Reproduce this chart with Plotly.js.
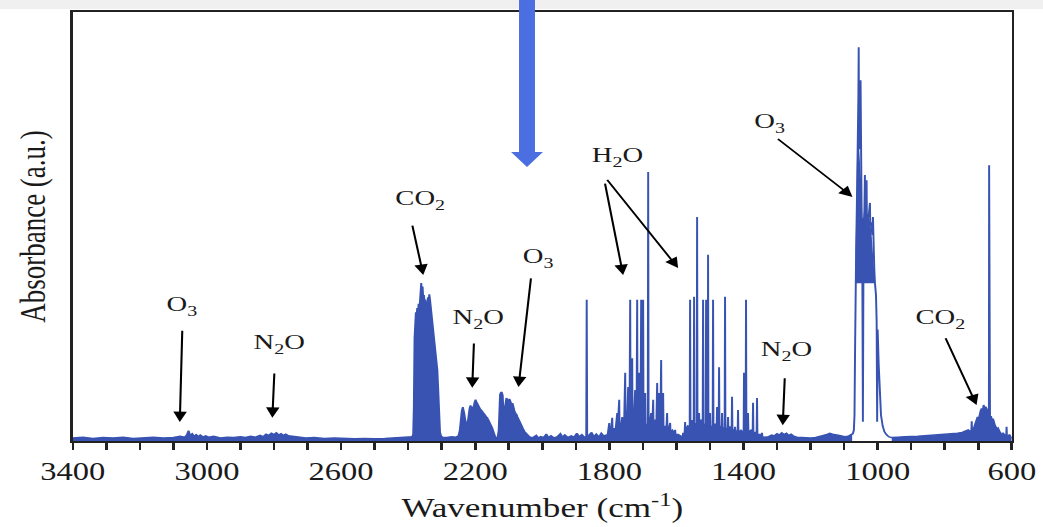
<!DOCTYPE html>
<html><head><meta charset="utf-8">
<script src="https://cdn.plot.ly/plotly-3.0.1.min.js"></script>
<style>
html,body{margin:0;padding:0;background:#fff;overflow:hidden;}
#chart{width:802px;height:527px;transform:scaleX(1.3005);transform-origin:0 0;}
</style>
</head><body><div id="chart"></div>
<script>
// ---- spectrum segments (wavenumber cm-1, absorbance a.u.) ----
const baseWn = [3400,3370,3340,3310,3280,3250,3220,3190,3160,3130,3100,3080,3066,3060,3055,3050,3044,3038,3032,3026,3020,3012,3004,2995,2980,2960,2940,2920,2900,2885,2870,2855,2842,2832,2824,2816,2808,2800,2793,2786,2779,2772,2765,2757,2748,2738,2725,2705,2680,2650,2620,2590,2560,2530,2500,2470,2440,2410,2395];
const baseAbs = [0.7,0.9,0.6,0.8,0.7,0.9,0.6,0.8,0.9,0.7,0.8,1.1,0.9,1.4,2.4,1.3,1.7,1.1,1.5,1.0,1.4,0.9,1.2,0.9,1.1,0.7,0.9,0.8,1.0,0.8,1.1,0.9,1.3,1.0,1.6,1.3,1.8,1.5,1.9,1.4,1.7,1.3,1.6,1.2,1.1,0.9,0.8,0.7,0.8,0.6,0.7,0.6,0.5,0.6,0.5,0.6,0.7,0.8,1.0];

const co2StretchWn = [2388,2385,2383,2381,2379,2377,2375,2373,2371,2369,2367,2365,2363,2361,2359,2357,2355,2353,2351,2349,2347,2346,2345,2343,2341,2339,2337,2335,2333,2331,2329,2327,2325,2323,2321,2319,2317,2315,2313,2311,2309,2307,2305,2302,2298];
const co2StretchAbs = [1.0,1.6,8,24,28,30,29,31,28.5,32,30,33.5,35.5,36.8,34.5,36,33,34,32,33,31,3,30,32,33.5,32,34.2,33,31.5,30,29,27,26,24,23,21,20,18,16.5,13,9,4,2,1.2,0.9];

const n2oMidWn = [2285,2270,2258,2250,2246,2243,2240,2237,2235,2233,2230,2227,2224,2222,2220,2217,2214,2211,2208,2205,2202,2199,2197,2194,2191,2188,2185,2182,2179,2176,2173,2170,2167,2164,2161,2158,2155,2152,2149,2146,2143,2140,2136];
const n2oMidAbs = [0.8,1.0,0.9,1.2,2.5,5.5,7.0,7.9,7.5,6.5,5.0,3.5,3.3,4.5,6.0,7.5,8.3,7.2,8.0,7.8,9.0,9.6,9.2,8.6,8.2,8.0,7.4,7.2,6.8,6.4,6.2,6.0,5.6,5.4,5.0,4.6,4.2,3.6,3.0,2.2,1.4,0.9,0.8];

const o3MidWn = [2133,2130,2128,2126,2124,2121,2118,2116,2114,2112,2110,2107,2104,2101,2098,2095,2092,2089,2086,2083,2080,2077,2074,2071,2068,2065,2061,2057,2053,2049,2045,2040,2036];
const o3MidAbs = [0.9,2.5,8.5,10.8,11.2,11.4,10.6,8.0,2.5,7.5,9.5,10.0,9.6,9.0,9.8,9.2,8.6,8.8,7.6,7.0,6.4,6.2,5.6,5.0,4.6,4.0,3.4,2.8,2.2,1.8,1.4,1.1,0.9];

const midGapWn = [2028,2018,2012,2005,1996,1988,1982,1974,1965,1955,1946,1940,1933,1924,1914,1905,1897,1890,1882,1875,1869,1867.6,1866.2,1860,1853,1846,1839,1831,1824,1817,1810];
const midGapAbs = [0.8,1.3,0.7,1.0,0.8,1.6,0.8,1.2,0.7,1.0,1.7,0.9,1.4,0.8,1.2,0.9,1.8,1.0,1.5,0.9,1.0,32.9,1.0,1.4,2.0,1.0,1.6,0.9,1.8,1.2,1.4];

const h2oAWn = [1805,1800.4,1799.3,1795,1791.5,1790.4,1786,1782,1776.6,1775.5,1770.7,1769.6,1765,1761.7,1760.6,1756,1752.8,1751.7,1747,1743.9,1742.8,1740,1737.9,1736.8,1734,1732.0,1730.9,1727,1723.1,1722.0,1719,1717.1,1716.0,1713,1711.2,1710.1,1707,1705.2,1704.1,1701,1699.3,1698.2,1695,1693.3,1692.2,1688,1685.5,1684.3,1683.1,1679,1675.4,1674.3,1672,1669.4,1668.3,1663,1660,1657.5,1656.4,1654,1651.6,1650.5,1648,1645.6,1644.5,1642,1639.7,1638.6,1634,1630,1627.8,1626.7,1622,1618.8,1617.7,1612,1606,1603.9,1602.8,1595,1588,1581,1580.1,1579];
const h2oAAbs = [1.5,4.2,2.0,2.5,5.4,2.2,3.0,2.2,6.5,2.5,9.6,2.5,3.5,5.6,2.5,4.0,15.9,2.8,4.5,12.6,3.0,4.0,32.9,3.0,5.0,19.3,3.0,4.5,11.9,3.0,4.0,32.9,3.0,5.5,15.9,3.0,4.5,32.9,3.0,4.0,32.9,3.0,4.0,11.2,3.0,4.0,3.0,62.7,3.0,4.5,6.5,2.8,3.5,9.6,2.8,5.0,3.5,13.5,2.8,4.0,11.2,2.8,3.5,18.9,2.6,3.5,11.2,2.5,3.5,2.8,6.5,2.2,3.0,4.2,2.0,2.5,1.8,2.6,1.5,1.5,1.2,1.0,1.9,1.1];

const h2oBWn = [1576,1574.1,1573.0,1566,1560.4,1559.3,1558.2,1554.4,1553.3,1552.2,1548.5,1547.4,1546.3,1542,1539.5,1538.4,1537.3,1533.6,1532.5,1531.4,1526,1521.7,1520.6,1519.5,1512.7,1511.6,1510.5,1506.8,1505.7,1504.6,1500.8,1499.7,1498.6,1491.9,1490.8,1489.7,1484,1480,1478.9,1477.8,1474,1472.9,1471.8,1465.1,1464.0,1462.9,1456.2,1455.1,1454.0,1447.2,1446.1,1445.0,1440,1435.3,1434.2,1433.1,1426.4,1425.3,1424.2,1417.4,1416.3,1415.2,1408.5,1407.4,1406.3,1399.6,1398.5,1397.4,1393.6,1392.5,1391.4,1387.6,1386.5,1385.4,1378,1372.7,1371.6,1370.5,1365,1360.8,1359.7,1358.6,1350,1345.9,1344.8,1343.7,1338];
const h2oBAbs = [1.2,4.4,2.5,3.5,3.2,32.9,3.0,3.5,4.9,3.0,3.5,33.6,3.2,4.0,4.0,52.2,3.5,4.0,6.5,3.5,5.0,4.0,32.9,3.5,4.0,32.9,3.5,4.0,43.4,3.5,4.0,6.5,3.2,3.5,32.9,3.0,4.0,3.5,7.9,3.0,3.5,17.2,3.0,3.5,6.5,2.8,3.2,33.6,2.8,3.0,5.6,2.5,3.2,3.0,10.3,2.5,2.6,3.3,2.2,2.4,7.2,2.2,2.4,2.6,2.0,2.4,15.9,2.2,2.4,32.9,2.2,2.2,6.5,2.0,2.5,2.0,8.9,1.8,2.0,1.8,10.0,1.5,1.5,1.4,1.9,1.0,0.9];

const n2oLowWn = [1336,1325,1316,1308,1300,1293,1286,1279,1272,1265,1258,1250,1240,1228,1215,1200,1185,1172,1162,1152,1143,1134,1124,1114,1104,1094,1086,1080,1076];
const n2oLowAbs = [0.9,1.0,1.4,1.2,1.7,1.4,1.9,1.5,1.8,1.3,1.6,1.1,0.9,0.8,0.7,0.7,0.8,1.0,1.3,1.5,1.8,1.6,1.5,1.3,1.1,1.0,1.2,1.5,1.7];

const o3BandWn = [1074,1071,1069,1067.5,1066.5,1064,1061,1058.5,1057.5,1056.5,1055.5,1053.5,1051,1050,1048,1046,1045,1044,1042.5,1040,1038,1037,1035,1033,1032,1029,1026,1023,1022,1019,1016,1014,1013,1010,1008,1005,1003,1001.5,1000,997,994,990,985,980,974,967,960];
const o3BandAbs = [1.7,2.5,6,20,36.8,45,60,68,80,91.8,68,70,84.1,64,55,46,30,4.5,38,48,62.0,50,52,60.8,50,52,53,55.5,50,51,48,52.2,44,40,36.8,34,28,4.5,26,18,10,6,3.5,2.2,1.5,1.0,0.8];

// dense (unresolved) part of the O3 band
const o3BlockWn = [1066.5,1064,1062,1060,1058,1055,1052,1049,1046,1043,1040,1037,1034,1031,1028,1025,1022,1019,1016,1013,1010,1008];
const o3BlockTop = [40,58,70,74,72,68,66,60,52,52,54,55,54,53,52,52,51,49,46,43,40,37];
const o3BlockBottom = [36.8,36.8,36.8,36.8,36.8,36.8,36.8,36.8,36.8,36.8,36.8,36.8,36.8,36.8,36.8,36.8,36.8,36.8,36.8,36.8,36.8,36.8];

const co2BendWn = [958,940,920,900,880,860,840,820,800,780,762,748,738,730,724,720.5,719.5,718.5,714,710,706,702,699,696,693,690,687,684,681,678,675,672,669.5,668.2,667.6,667.0,665,662,659,656,653,650,647,644,641,638,635,632,629,626,622,618,616.5,615.5,614.5,611,607,603,600];
const co2BendAbs = [0.8,0.9,1.0,1.0,1.1,1.2,1.3,1.4,1.5,1.6,1.8,2.0,2.3,2.6,2.2,2.4,4.6,2.4,2.8,3.6,4.6,5.6,5.0,6.4,7.0,7.6,6.8,8.4,7.4,8.0,7.6,7.0,6.4,7.0,64.3,6.0,5.4,5.8,4.8,5.2,4.2,3.6,3.2,2.8,3.0,2.2,2.0,1.7,1.5,1.8,1.3,1.2,1.4,3.3,1.2,1.0,1.5,0.8,1.0];

// ---- band labels ----
const labelText = ['O<sub>3</sub>','N<sub>2</sub>O','CO<sub>2</sub>','N<sub>2</sub>O','O<sub>3</sub>','H<sub>2</sub>O','O<sub>3</sub>','N<sub>2</sub>O','CO<sub>2</sub>'];
const labelWn   = [3073, 2786, 2366, 2191, 2012, 1777, 1321, 1271, 815];
const labelAbs  = [31.7, 22.8, 56.4, 28.7, 42.9, 66.4, 74.4, 21.2, 28.7];
// arrows: tail -> tip
const arrowTailWn  = [3073, 2798, 2393, 2203, 2031, 1818, 1818, 1309, 1276, 809];
const arrowTailAbs = [27.7, 17.7, 52.2, 24.7, 39.9, 62.0, 62.0, 71.1, 16.6, 25.9];
const arrowTipWn   = [3081, 2805, 2355, 2209, 2071, 1759, 1595, 1075, 1283, 705];
const arrowTipAbs  = [4.4, 5.4, 38.7, 12.4, 12.6, 38.7, 40.3, 56.9, 3.7, 8.4];

const blue = '#3853b2';

const mainWn = [].concat(baseWn, co2StretchWn, n2oMidWn, o3MidWn, midGapWn, h2oAWn, h2oBWn, n2oLowWn);
const mainAbs = [].concat(baseAbs, co2StretchAbs, n2oMidAbs, o3MidAbs, midGapAbs, h2oAAbs, h2oBAbs, n2oLowAbs);
const allWn = [].concat(mainWn, o3BandWn, co2BendWn);
const allAbs = [].concat(mainAbs, o3BandAbs, co2BendAbs);

const traces = [
  {x: mainWn, y: mainAbs, type:'scatter', mode:'lines', fill:'tozeroy', fillcolor: blue, line:{width:0, color: blue}, hoverinfo:'skip'},
  {x: co2BendWn, y: co2BendAbs, type:'scatter', mode:'lines', fill:'tozeroy', fillcolor: blue, line:{width:0, color: blue}, hoverinfo:'skip'},
  {x: o3BlockWn.concat(o3BlockWn.slice().reverse()), y: o3BlockTop.concat(o3BlockBottom.slice().reverse()),
   type:'scatter', mode:'lines', fill:'toself', fillcolor: blue, line:{width:0, color: blue}, hoverinfo:'skip'},
  {x: allWn, y: allAbs, type:'scatter', mode:'lines', line:{width:1.5, color: blue}, name:'Absorbance'}
];

const ann = [];
for (let i = 0; i < labelText.length; i++) {
  ann.push({x: labelWn[i], y: labelAbs[i], xref:'x', yref:'y', text: labelText[i], showarrow:false,
    xanchor:'center', yanchor:'middle', font:{size:22, color:'#1a1a1a'}});
}
for (let i = 0; i < arrowTipWn.length; i++) {
  ann.push({x: arrowTipWn[i], y: arrowTipAbs[i], xref:'x', yref:'y', ax: arrowTailWn[i], ay: arrowTailAbs[i],
    axref:'x', ayref:'y', showarrow:true, arrowhead:2, arrowsize:1.3, arrowwidth:1.6, arrowcolor:'#000', standoff:0, startstandoff:0});
}

const ax0 = 0.4837;
const layout = {
  width: 802, height: 527,
  margin: {l:56, r:24, t:12, b:86, pad:0},
  paper_bgcolor:'#ffffff', plot_bgcolor:'#ffffff',
  showlegend:false,
  font:{family:'Liberation Serif, Times New Roman, serif', color:'#1a1a1a'},
  xaxis:{
    range:[3400,600], tickmode:'linear', tick0:600, dtick:400,
    ticks:'outside', ticklen:7, tickwidth:2, tickcolor:'#222',
    showline:true, linecolor:'#222', linewidth:2, mirror:true,
    showgrid:false, zeroline:false, tickfont:{size:25, color:'#1a1a1a'},
    minor:{tick0:600, dtick:100, ticks:'outside', ticklen:7, tickwidth:2, tickcolor:'#222', showgrid:false},
    title:{text:'Wavenumber (cm<sup>-1</sup>)', font:{size:27, color:'#1a1a1a'}, standoff:14}
  },
  yaxis:{
    range:[0,100], showticklabels:false, ticks:'',
    showline:true, linecolor:'#222', linewidth:2, mirror:true,
    showgrid:false, zeroline:false,
    title:{text:'Absorbance (a.u.)', font:{size:27, color:'#1a1a1a'}, standoff:11}
  },
  shapes:[
    {type:'rect', xref:'paper', yref:'paper', x0:-0.1, x1:1.05, y0:1.007, y1:1.03, fillcolor:'#f0f0f0', line:{width:0}, layer:'below'},
    {type:'path', xref:'paper', yref:'paper', layer:'above', fillcolor:'#4b6fe0', line:{width:0},
     path:'M '+(ax0-0.0085)+',1.03 L '+(ax0+0.0085)+',1.03 L '+(ax0+0.0085)+',0.6737 L '+(ax0+0.017)+',0.6737 L '+ax0+',0.6387 L '+(ax0-0.017)+',0.6737 L '+(ax0-0.0085)+',0.6737 Z'}
  ],
  annotations: ann
};

Plotly.newPlot('chart', traces, layout, {staticPlot:true, displayModeBar:false});
</script>
</body></html>
